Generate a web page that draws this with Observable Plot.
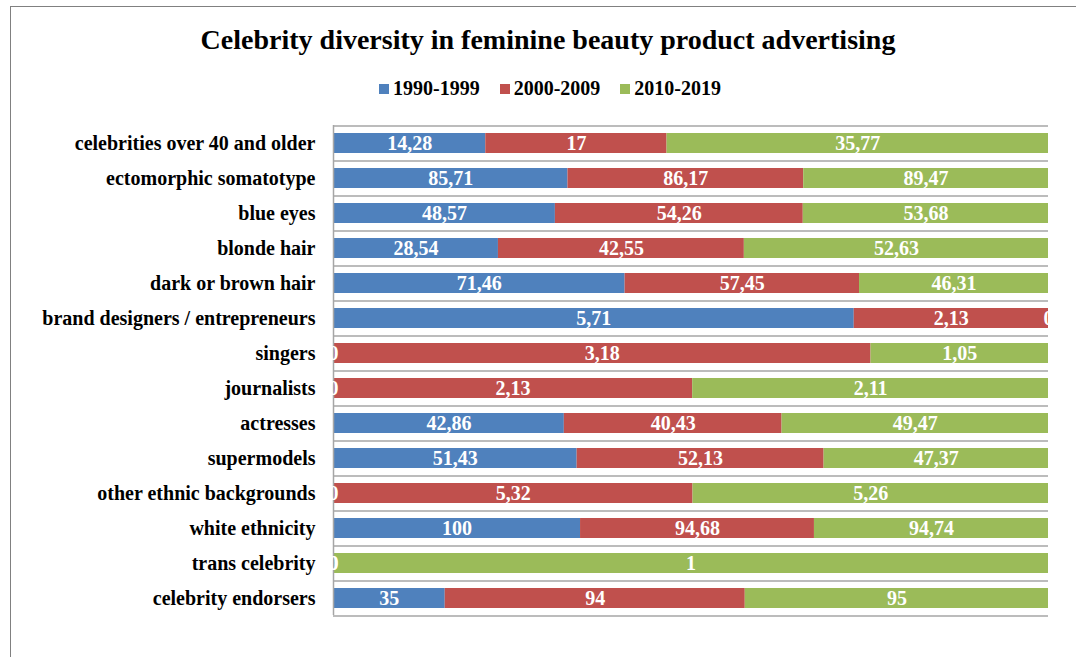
<!DOCTYPE html>
<html><head><meta charset="utf-8">
<script src="https://cdn.jsdelivr.net/npm/d3@7"></script>
<script src="https://cdn.jsdelivr.net/npm/@observablehq/plot@0.6"></script>
<style>
body{margin:0;background:#fff;}
#wrap{position:relative;width:1076px;height:657px;overflow:hidden;font-family:"Liberation Serif","Times New Roman",serif;font-weight:bold;color:#000;}
#frameTop{position:absolute;left:10px;top:6px;width:1066px;height:0;border-top:1.5px solid #808080;}
#frameLeft{position:absolute;left:10px;top:6px;width:0;height:651px;border-left:1.5px solid #808080;}
#title{position:absolute;left:10px;top:23px;width:1076px;text-align:center;font-size:28px;line-height:34px;}
#legend{position:absolute;left:12px;top:76px;width:1076px;text-align:center;font-size:20px;line-height:24px;}
.item{display:inline-block;margin:0 10px;}
.sw{display:inline-block;width:10px;height:10px;margin-right:4px;vertical-align:1px;}
#chart{position:absolute;left:0;top:110px;}
</style></head>
<body>
<div id="wrap">
  <div id="frameTop"></div><div id="frameLeft"></div>
  <div id="title">Celebrity diversity in feminine beauty product advertising</div>
  <div id="legend"></div>
  <div id="chart"></div>
</div>
<script>
const categories = [
  "celebrities over 40 and older",
  "ectomorphic somatotype",
  "blue eyes",
  "blonde hair",
  "dark or brown hair",
  "brand designers / entrepreneurs",
  "singers",
  "journalists",
  "actresses",
  "supermodels",
  "other ethnic backgrounds",
  "white ethnicity",
  "trans celebrity",
  "celebrity endorsers"
];
const periods = ["1990-1999", "2000-2009", "2010-2019"];
const colors = ["#4f81bd", "#c0504d", "#9bbb59"];
const v1990 = [14.28, 85.71, 48.57, 28.54, 71.46, 5.71, 0, 0, 42.86, 51.43, 0, 100, 0, 35];
const v2000 = [17, 86.17, 54.26, 42.55, 57.45, 2.13, 3.18, 2.13, 40.43, 52.13, 5.32, 94.68, 0, 94];
const v2010 = [35.77, 89.47, 53.68, 52.63, 46.31, 0, 1.05, 2.11, 49.47, 47.37, 5.26, 94.74, 1, 95];

const series = [v1990, v2000, v2010];
const rows = [];
categories.forEach((c, i) => {
  periods.forEach((p, j) => rows.push({category: c, period: p, value: series[j][i]}));
});
const fmt = v => String(v).replace(".", ",");

// legend
const leg = document.getElementById("legend");
periods.forEach((p, j) => {
  const it = document.createElement("span");
  it.className = "item";
  const sw = document.createElement("span");
  sw.className = "sw";
  sw.style.background = colors[j];
  it.appendChild(sw);
  it.appendChild(document.createTextNode(p));
  leg.appendChild(it);
});

const step = 35;
const grid = {stroke: "#a6a6a6", strokeWidth: 1.5};
const plot = Plot.plot({
  width: 1076,
  height: 547,
  marginLeft: 333,
  marginRight: 28,
  marginTop: 15,
  marginBottom: 42,
  x: {axis: null, domain: [0, 1]},
  y: {domain: categories, paddingInner: 0.43, paddingOuter: 0.215, axis: null},
  color: {domain: periods, range: colors},
  style: {fontFamily: "'Liberation Serif','Times New Roman',serif", fontWeight: "bold", fontSize: "20px", color: "#000", background: "transparent"},
  marks: [
    Plot.ruleY(categories, {y: d => d, dy: step / 2, ...grid}),
    Plot.ruleY([categories[0]], {y: d => d, dy: -step / 2, ...grid}),
    Plot.barX(rows, Plot.stackX({offset: "normalize", x: "value", y: "category", fill: "period"})),
    Plot.ruleX([0], grid),
    Plot.text(rows, Plot.stackX({offset: "normalize", x: "value", y: "category", z: "period",
      text: d => fmt(d.value), fill: "white", fontSize: 20, fontWeight: "bold"})),
    Plot.axisY({tickSize: 0, tickPadding: 18, fontSize: 20, fontWeight: "bold", fill: "#000", label: null})
  ]
});
document.getElementById("chart").appendChild(plot);
</script>
</body></html>
